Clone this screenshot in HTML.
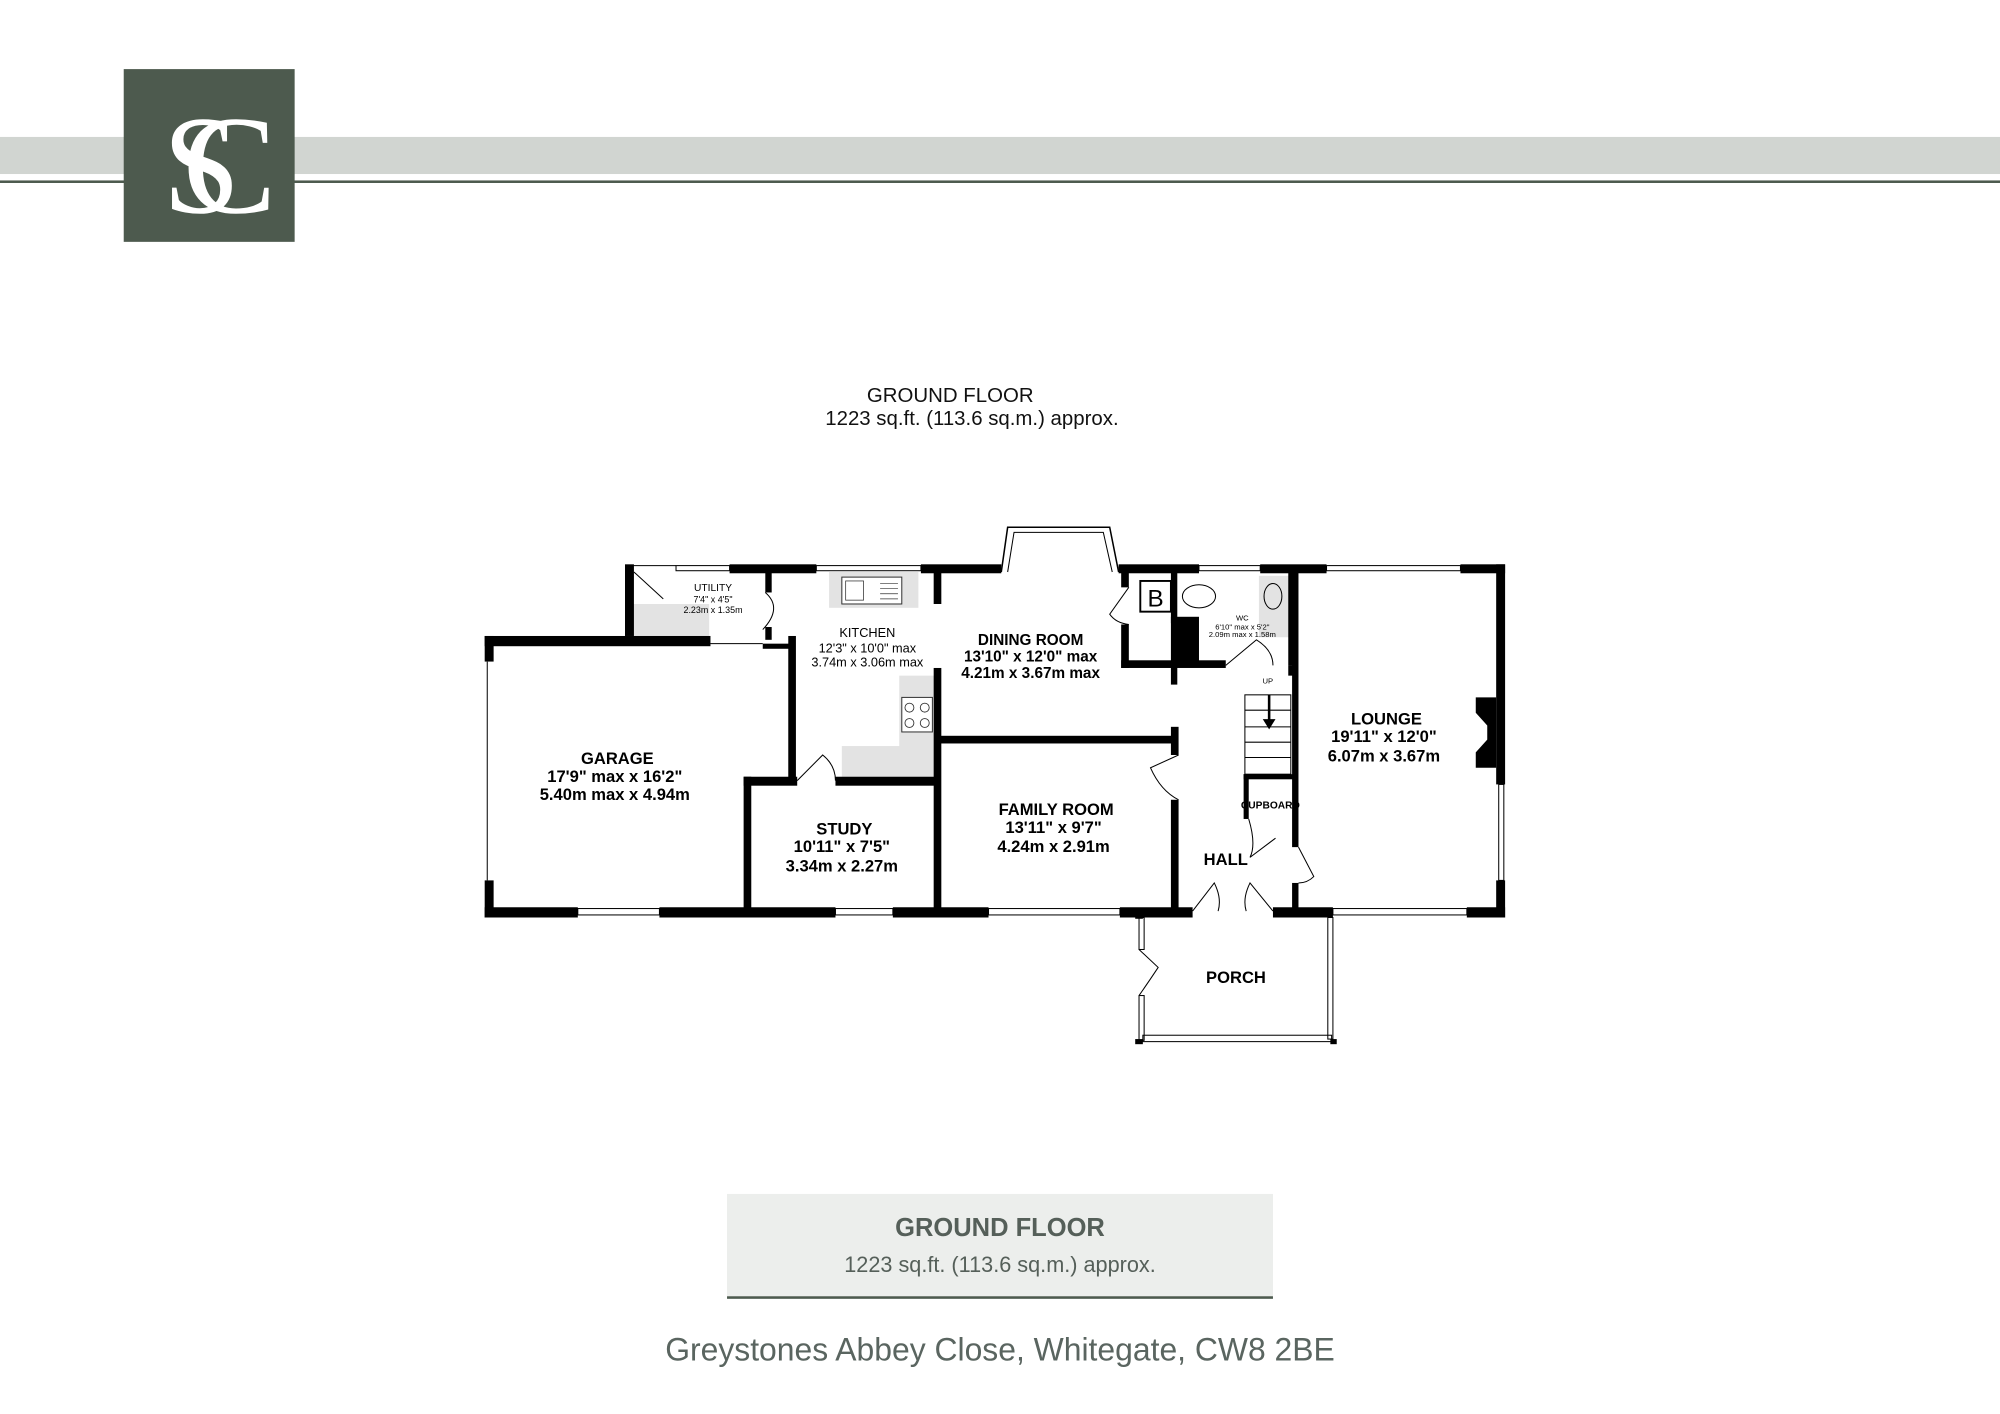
<!DOCTYPE html>
<html><head><meta charset="utf-8"><style>
html,body{margin:0;padding:0;background:#fff;}
svg{display:block}
</style></head><body>
<svg width="2000" height="1414" viewBox="0 0 1568 1105" preserveAspectRatio="none" xmlns="http://www.w3.org/2000/svg" font-family="Liberation Sans, sans-serif">
<rect x="0" y="107" width="1568" height="29" fill="#d1d5d1"/>
<rect x="0" y="141" width="1568" height="2" fill="#4d5a4e"/>
<rect x="97" y="54" width="134" height="135" fill="#4d5a4e"/>
<text x="158" y="166" font-family="Liberation Serif, serif" font-size="110" fill="#fff" text-anchor="middle">S</text>
<text x="180" y="166" font-family="Liberation Serif, serif" font-size="110" fill="#fff" text-anchor="middle">C</text>

<text x="745" y="314" font-size="16" text-anchor="middle" fill="#111">GROUND FLOOR</text>
<text x="762" y="332" font-size="16" text-anchor="middle" fill="#111">1223 sq.ft. (113.6 sq.m.) approx.</text>

<g fill="#e3e3e3">
<rect x="650" y="447" width="70" height="28"/>
<rect x="705" y="528" width="30" height="82"/>
<rect x="660" y="583" width="75" height="27"/>
<rect x="496" y="472" width="60" height="25"/>
<rect x="987" y="450" width="25" height="48"/>
</g>
<rect x="660" y="451" width="47" height="21" fill="#fff" stroke="#333" stroke-width="0.8"/>
<rect x="663" y="454" width="14" height="15" fill="none" stroke="#333" stroke-width="0.6"/>
<g stroke="#333" stroke-width="0.5"><line x1="690" y1="456" x2="704" y2="456"/><line x1="690" y1="460" x2="704" y2="460"/><line x1="690" y1="464" x2="704" y2="464"/><line x1="690" y1="468" x2="704" y2="468"/></g>
<rect x="707" y="545" width="24" height="27" fill="#fff" stroke="#333" stroke-width="0.8"/>
<g fill="none" stroke="#333" stroke-width="0.7"><circle cx="713" cy="553" r="3.5"/><circle cx="725" cy="553" r="3.5"/><circle cx="713" cy="565" r="3.5"/><circle cx="725" cy="565" r="3.5"/></g>

<g fill="#000">
<rect x="490" y="441" width="7" height="56"/>
<rect x="572" y="441" width="68" height="7"/>
<rect x="722" y="441" width="63" height="7"/>
<rect x="877" y="441" width="63" height="7"/>
<rect x="988" y="441" width="52" height="7"/>
<rect x="1145" y="441" width="35" height="7"/>
<rect x="1173" y="441" width="7" height="172"/>
<rect x="1173" y="688" width="7" height="29"/>
<rect x="380" y="709" width="73" height="8"/>
<rect x="517" y="709" width="138" height="8"/>
<rect x="700" y="709" width="75" height="8"/>
<rect x="878" y="709" width="57" height="8"/>
<rect x="998" y="709" width="47" height="8"/>
<rect x="1150" y="709" width="30" height="8"/>
<rect x="380" y="497" width="7" height="20"/>
<rect x="380" y="688" width="7" height="29"/>
<rect x="380" y="497" width="177" height="8"/>
<rect x="598" y="503" width="25" height="4"/>
<rect x="618" y="497" width="6" height="113"/>
<rect x="583" y="607" width="42" height="7"/>
<rect x="655" y="607" width="80" height="7"/>
<rect x="583" y="607" width="6" height="110"/>
<rect x="600" y="447" width="5" height="16"/>
<rect x="600" y="490" width="5" height="10"/>
<rect x="732" y="447" width="6" height="25"/>
<rect x="732" y="522" width="6" height="195"/>
<rect x="735" y="575" width="188" height="6"/>
<rect x="918" y="568" width="6" height="22"/>
<rect x="918" y="625" width="6" height="87"/>
<rect x="879" y="447" width="6" height="12"/>
<rect x="879" y="488" width="6" height="34"/>
<rect x="879" y="516" width="82" height="6"/>
<rect x="918" y="482" width="22" height="38"/>
<rect x="918" y="447" width="5" height="40"/>
<rect x="918" y="520" width="5" height="15"/>
<rect x="1010" y="447" width="7" height="73"/>
<rect x="1010" y="520" width="7" height="8"/>
<rect x="1013" y="447" width="5" height="215"/>
<rect x="1013" y="690" width="5" height="27"/>
<polygon points="1157,545 1173,545 1173,600 1157,600 1157,588 1166,578 1166,567 1157,557"/>
<rect x="975" y="605" width="40" height="4"/>
<rect x="975" y="605" width="4" height="35"/>
<rect x="890" y="712" width="6" height="6"/>
<rect x="890" y="812" width="6" height="4"/>
<rect x="1043" y="812" width="5" height="4"/>
</g>
<g fill="none" stroke="#000" stroke-width="0.8">
<rect x="530" y="442" width="42" height="4"/>
<rect x="640" y="442" width="82" height="4"/>
<rect x="940" y="442" width="48" height="4"/>
<rect x="1040" y="442" width="105" height="4"/>
<rect x="1175" y="613" width="4" height="75"/>
<rect x="453" y="710" width="64" height="5"/>
<rect x="655" y="710" width="45" height="5"/>
<rect x="775" y="710" width="103" height="5"/>
<rect x="1045" y="710" width="105" height="5"/>
<line x1="382" y1="517" x2="382" y2="688"/>
<line x1="557" y1="503" x2="598" y2="503"/>
<line x1="490" y1="442" x2="530" y2="442"/>
<polyline points="785,447 790,412 870,412 877,447" stroke-width="1.2"/>
<polyline points="790,447 795,416 865,416 872,447" stroke-width="0.8"/>
<rect x="893" y="717" width="4" height="25"/>
<rect x="893" y="778" width="4" height="35"/>
<rect x="896" y="809" width="148" height="5"/>
<rect x="1041" y="717" width="4" height="95"/>
<path d="M497,447 L520,468"/>
<path d="M600,463 Q614,475 598,492"/>
<path d="M625,610 L645,590 Q655,598 655,610"/>
<path d="M885,459 L870,480 Q875,487 885,488"/>
<path d="M961,520 L985,500 Q998,508 998,520"/>
<path d="M924,590 L902,600 Q910,618 924,625"/>
<path d="M979,640 Q985,660 980,670 L1000,655"/>
<path d="M1018,662 L1030,685 Q1025,690 1018,690"/>
<path d="M935,712 L952,690 Q958,702 955,712"/>
<path d="M998,712 L980,690 Q974,702 977,712"/>
<path d="M893,742 L908,756 Q900,768 893,778"/>
<rect x="976" y="543" width="36" height="62"/>
<line x1="976" y1="555" x2="1012" y2="555"/>
<line x1="976" y1="568" x2="1012" y2="568"/>
<line x1="976" y1="580" x2="1012" y2="580"/>
<line x1="976" y1="592" x2="1012" y2="592"/>
<ellipse cx="940" cy="466" rx="13" ry="9"/>
<ellipse cx="998" cy="466" rx="7" ry="10"/>
</g>
<path d="M994,543 L994,562 L990,562 L995,570 L1000,562 L996,562 L996,543 Z" fill="#000"/>
<rect x="894" y="454" width="24" height="24" fill="#fff" stroke="#000" stroke-width="1.5"/>
<text x="906" y="474" font-size="19" text-anchor="middle">B</text>

<g fill="#000" text-anchor="middle" font-weight="bold">
<text x="559" y="462" font-size="8" font-weight="normal">UTILITY</text>
<text x="559" y="471" font-size="7" font-weight="normal">7'4"  x 4'5"</text>
<text x="559" y="479" font-size="7" font-weight="normal">2.23m  x 1.35m</text>
<text x="680" y="498" font-size="10" font-weight="normal">KITCHEN</text>
<text x="680" y="510" font-size="10" font-weight="normal">12'3"  x 10'0" max</text>
<text x="680" y="521" font-size="10" font-weight="normal">3.74m  x 3.06m max</text>
<text x="808" y="504" font-size="12">DINING ROOM</text>
<text x="808" y="517" font-size="12">13'10"  x 12'0" max</text>
<text x="808" y="530" font-size="12">4.21m  x 3.67m max</text>
<text x="974" y="485" font-size="6" font-weight="normal">WC</text>
<text x="974" y="492" font-size="6" font-weight="normal">6'10" max x 5'2"</text>
<text x="974" y="498" font-size="6" font-weight="normal">2.09m max x 1.58m</text>
<text x="994" y="534" font-size="6" font-weight="normal">UP</text>
<text x="1087" y="566" font-size="13">LOUNGE</text>
<text x="1085" y="580" font-size="13">19'11"  x 12'0"</text>
<text x="1085" y="595" font-size="13">6.07m  x 3.67m</text>
<text x="484" y="597" font-size="13">GARAGE</text>
<text x="482" y="611" font-size="13">17'9" max x 16'2"</text>
<text x="482" y="625" font-size="13">5.40m max x 4.94m</text>
<text x="662" y="652" font-size="13">STUDY</text>
<text x="660" y="666" font-size="13">10'11"  x 7'5"</text>
<text x="660" y="681" font-size="13">3.34m  x 2.27m</text>
<text x="828" y="637" font-size="13">FAMILY ROOM</text>
<text x="826" y="651" font-size="13">13'11"  x 9'7"</text>
<text x="826" y="666" font-size="13">4.24m  x 2.91m</text>
<text x="996" y="632" font-size="8">CUPBOARD</text>
<text x="961" y="676" font-size="13">HALL</text>
<text x="969" y="768" font-size="13">PORCH</text>
</g>

<rect x="570" y="933" width="428" height="81" fill="#eceeec"/>
<rect x="570" y="1013" width="428" height="2" fill="#4d5a4e"/>
<text x="784" y="966" font-size="20" font-weight="bold" text-anchor="middle" fill="#555f59">GROUND FLOOR</text>
<text x="784" y="994" font-size="17" text-anchor="middle" fill="#555f59">1223 sq.ft. (113.6 sq.m.) approx.</text>
<text x="784" y="1063" font-size="25" text-anchor="middle" fill="#5a6560">Greystones Abbey Close, Whitegate, CW8 2BE</text>
</svg>
</body></html>
